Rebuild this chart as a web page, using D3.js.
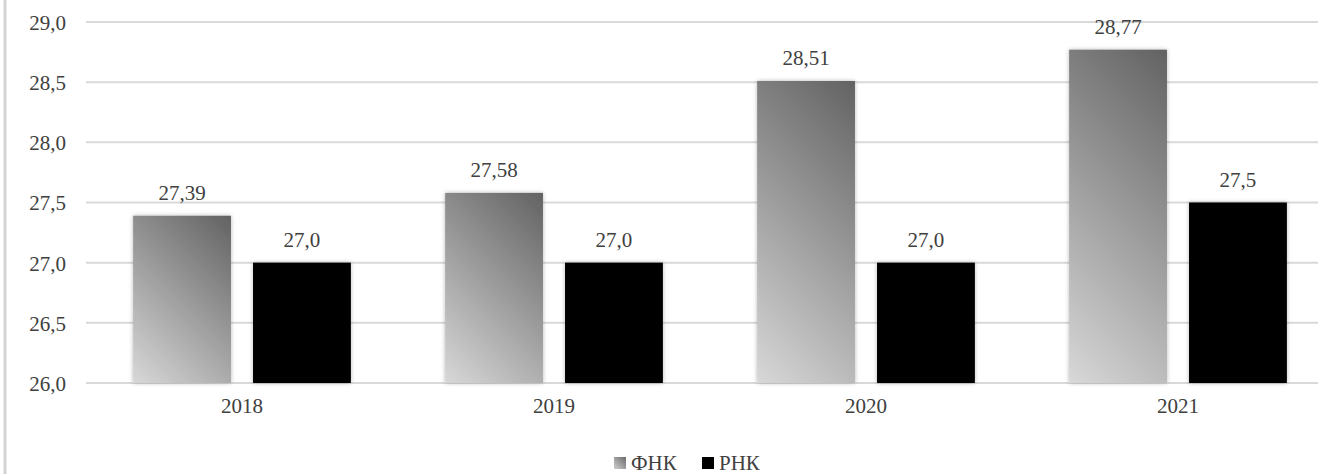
<!DOCTYPE html>
<html><head><meta charset="utf-8">
<script src="https://cdn.jsdelivr.net/npm/d3@7"></script>
<style>
html,body{margin:0;padding:0;background:#fff;overflow:hidden;}
svg{display:block;}
svg text{font-family:"Liberation Serif","Times New Roman",Times,"DejaVu Serif","Noto Serif",serif !important;}
</style></head>
<body>
<svg id="c" width="1318" height="474"></svg>
<script>
const years = ["2018","2019","2020","2021"];
const seriesNames = ["ФНК","РНК"];
const fnk = [27.39, 27.58, 28.51, 28.77];
const rnk = [27.0, 27.0, 27.0, 27.5];
const fnkLabels = ["27,39","27,58","28,51","28,77"];
const rnkLabels = ["27,0","27,0","27,0","27,5"];
const yTicks = [26.0, 26.5, 27.0, 27.5, 28.0, 28.5, 29.0];

const svg = d3.select("#c");
const W = 1318, H = 474;
const x0 = d3.scaleBand().domain(years).range([86, 1334]).paddingInner(0).paddingOuter(0);
const x1 = d3.scaleBand().domain(seriesNames).range([0, x0.bandwidth()]).paddingInner(0.184).paddingOuter(0.393);
const y = d3.scaleLinear().domain([26, 29]).range([383, 22]);

const defs = svg.append("defs");
const f = defs.append("filter").attr("id","sh").attr("x","-20%").attr("y","-20%").attr("width","140%").attr("height","140%");
f.append("feDropShadow").attr("dx",0).attr("dy",0).attr("stdDeviation",2.2).attr("flood-color","#000").attr("flood-opacity",0.28);
const lg = defs.append("linearGradient").attr("id","gl").attr("x1","0").attr("y1","1").attr("x2","1").attr("y2","0");
lg.append("stop").attr("offset","0%").attr("stop-color","#d0d0d0");
lg.append("stop").attr("offset","100%").attr("stop-color","#6a6a6a");

// left border
svg.append("line").attr("x1",5).attr("x2",5).attr("y1",0).attr("y2",H).attr("stroke","#d3d3d3").attr("stroke-width",3);

// y axis labels
const yAxis = d3.axisLeft(y).tickValues(yTicks).tickSize(0).tickPadding(0)
  .tickFormat(d => d3.format(".1f")(d).replace(".", ","));
const ga = svg.append("g").attr("transform","translate(66,0)").call(yAxis);
ga.select(".domain").remove();
ga.selectAll("text").attr("font-size","21px").attr("fill","#404040").attr("dy","0.35em");

// grid
svg.append("g").selectAll("line").data(yTicks).join("line")
  .attr("x1",86).attr("x2",1334).attr("y1",d=>y(d)).attr("y2",d=>y(d))
  .attr("stroke","#d9d9d9").attr("stroke-width",2);

// bars
const data = years.map((yr,i)=>({yr, vals:[{s:"ФНК",v:fnk[i],l:fnkLabels[i],i},{s:"РНК",v:rnk[i],l:rnkLabels[i],i}]}));
// per-bar gradients (45 degrees in pixel space), coordinates local to each group
data.forEach(d=>{
  const v = d.vals[0];
  const bx = x1(v.s), bw = x1.bandwidth(), yb = y(26), h = y(26)-y(v.v);
  const gr = defs.append("linearGradient").attr("id","gf"+v.i).attr("gradientUnits","userSpaceOnUse")
    .attr("x1",bx).attr("y1",yb).attr("x2",bx+(bw+h)/2).attr("y2",yb-(bw+h)/2);
  gr.append("stop").attr("offset","0%").attr("stop-color","#d8d8d8");
  gr.append("stop").attr("offset","100%").attr("stop-color","#626262");
});
const groups = svg.append("g").selectAll("g").data(data).join("g").attr("transform",d=>`translate(${x0(d.yr)},0)`);
groups.selectAll("rect").data(d=>d.vals).join("rect")
  .attr("x",d=>x1(d.s)).attr("width",x1.bandwidth())
  .attr("y",d=>y(d.v)).attr("height",d=>y(26)-y(d.v))
  .attr("fill",d=>d.s==="ФНК"?`url(#gf${d.i})`:"#000")
  .attr("filter","url(#sh)");
groups.selectAll("text.lab").data(d=>d.vals).join("text").attr("class","lab")
  .attr("x",d=>x1(d.s)+x1.bandwidth()/2).attr("y",d=>y(d.v)-16)
  .attr("text-anchor","middle").attr("font-size","21px").attr("fill","#404040")
  .text(d=>d.l);

// x axis labels
const xAxis = d3.axisBottom(x0).tickSize(0).tickPadding(0);
const gx = svg.append("g").attr("transform","translate(0,383)").call(xAxis);
gx.select(".domain").remove();
gx.selectAll("text").attr("font-size","21px").attr("fill","#404040").attr("dy","0").attr("y",30);

// legend
const leg = svg.append("g").attr("transform","translate(614,463)");
const legItems = [{n:"ФНК",fill:"url(#gl)",x:0},{n:"РНК",fill:"#000",x:88}];
const li = leg.selectAll("g").data(legItems).join("g").attr("transform",d=>`translate(${d.x},0)`);
li.append("rect").attr("x",0).attr("y",-6).attr("width",12).attr("height",12).attr("fill",d=>d.fill);
li.append("text").attr("x",17).attr("y",7).attr("font-size","21px").attr("fill","#404040").text(d=>d.n);
</script>
</body></html>
